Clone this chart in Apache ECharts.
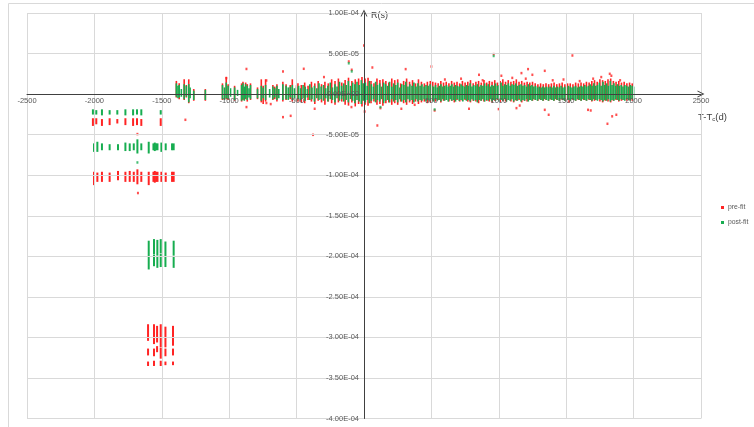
<!DOCTYPE html>
<html><head><meta charset="utf-8">
<script src="https://cdn.jsdelivr.net/npm/echarts@6/dist/echarts.min.js"></script>
<style>html,body{margin:0;padding:0;background:#fff}#c{width:754px;height:427px}</style>
</head><body><div id="c"></div>
<script>
// Residuals in microseconds (1e-6 s); axis labels show seconds.
// Bars: [T-Tc (d), low, high]  (stacked markers of one epoch)
const xTicks = [-2500,-2000,-1500,-1000,-500,0,500,1000,1500,2000,2500];
const yTicks = [-400,-350,-300,-250,-200,-150,-100,-50,0,50,100];

const postFitMain = [
[-1392,-2,12],[-1380,-4,9],[-1371,-3,10],[-1355,-2,5],[-1334,-5,11],[-1318,-2,9],[-1300,-9,11],[-1290,-4,7],[-1263,-6,3],[-1177,-6,4],
[-1050,-5,10],[-1035,-6,7],[-1022,-4,13],[-1008,-5,9],[-990,-2,6],[-960,-6,7],[-938,-1,4],[-908,-7,10],[-898,-5,12],[-888,-7,8],[-878,-4,11],[-866,-6,9],[-853,-3,6],[-842,-5,10],
[-790,-4,5],[-762,-7,9],[-748,-4,7],[-730,-6,10],[-700,-3,5],[-676,-5,8],[-662,-3,6],[-646,-6,9],[-632,-4,5],[-602,-6,11],[-578,-5,9],[-562,-6,7],[-547,-3,8],[-532,-6,10],[-516,-4,6],[-500,-7,8],
[-485,-5,9],[-470,-6,6],[-452,-4,10],[-436,-7,8],[-420,-3,5],[-402,-6,11],[-386,-5,7],[-368,-8,9],[-350,-4,6],[-334,-6,12],[-318,-5,8],[-300,-7,10],[-284,-4,6],[-268,-8,9],[-250,-5,13],[-234,-6,7],[-216,-9,11],[-200,-4,8],[-182,-7,14],[-166,-5,9],[-150,-8,12],[-132,-6,10],[-116,-9,15],[-100,-5,9],[-84,-7,13],[-68,-10,11],[-52,-6,14],[-36,-8,10],[-20,-11,16],[-6,-7,12],
[10,-9,13],[24,-6,9],[40,-10,15],[55,-7,11],[70,-5,8],[86,-9,14],[100,-6,10],[116,-8,12],[130,-5,8],[146,-10,13],[160,-7,11],[176,-6,9],[190,-9,14],[206,-5,8],[220,-8,12],[236,-6,10],[250,-9,13],[266,-5,7],[280,-8,11],[296,-6,10],[310,-9,14],[326,-5,8],[340,-7,11],[356,-6,9],[370,-9,13],[386,-5,8],[400,-8,12],[416,-6,9],[430,-7,11],[446,-5,8],[460,-8,10],[476,-6,9],[490,-7,11],
[504,-6,9],[517,-8,8],[531,-5,10],[544,-7,7],[558,-6,9],[571,-8,11],[585,-5,8],[598,-7,9],[612,-6,10],[625,-8,8],[639,-5,9],[652,-7,11],[666,-6,8],[679,-8,10],[693,-5,9],[706,-7,8],[720,-6,11],[733,-8,9],[747,-5,8],[760,-7,10],[774,-6,9],[787,-8,12],[801,-5,8],[814,-7,10],[828,-6,9],[841,-9,11],[855,-6,8],[868,-7,10],[882,-5,9],[895,-8,12],[909,-6,9],[922,-7,11],[936,-5,8],[949,-8,10],[963,-6,9],[976,-7,12],[990,-5,9],
[1003,-8,10],[1017,-6,13],[1030,-7,9],[1044,-5,11],[1057,-8,10],[1071,-6,12],[1084,-7,9],[1098,-5,11],[1111,-8,10],[1125,-6,12],[1138,-7,9],[1152,-5,10],[1165,-8,11],[1179,-6,9],[1192,-7,10],[1206,-5,8],[1219,-8,11],[1233,-6,9],[1246,-7,10],[1260,-5,8],[1273,-6,9],[1287,-7,7],[1300,-5,8],[1314,-6,7],[1327,-7,8],[1341,-5,7],[1354,-6,8],[1368,-7,7],[1381,-5,8],[1395,-6,7],[1408,-7,9],[1422,-5,7],[1435,-6,8],[1449,-7,7],[1462,-5,9],[1476,-6,7],[1489,-7,8],
[1503,-5,7],[1516,-6,9],[1530,-7,8],[1543,-5,7],[1557,-6,8],[1570,-7,9],[1584,-5,7],[1597,-6,8],[1611,-7,9],[1624,-5,8],[1638,-6,10],[1651,-7,8],[1665,-5,9],[1678,-6,11],[1692,-7,9],[1705,-5,12],[1719,-6,9],[1732,-7,10],[1746,-5,13],[1759,-6,9],[1773,-8,14],[1786,-6,10],[1800,-7,12],[1813,-5,9],[1827,-8,15],[1840,-6,10],[1854,-7,12],[1867,-5,9],[1881,-6,11],[1894,-7,9],[1908,-5,10],[1921,-6,8],[1935,-7,10],[1948,-5,9],[1962,-6,8],[1975,-7,10],[1989,-5,9],[2000,-6,8]
];

const preFitMain = [
[-1392,-3,15],[-1371,-5,12],[-1334,-6,17],[-1318,-3,10],[-1300,-10,17],[-1263,-7,5],[-1177,-7,5],
[-1050,-6,12],[-1022,-5,20],[-1008,-6,11],[-960,-7,9],[-908,-8,12],[-898,-6,14],[-878,-5,13],[-866,-8,11],[-842,-6,12],
[-790,-5,7],[-762,-9,17],[-748,-11,9],[-730,-8,17],[-676,-6,10],[-662,-5,8],[-646,-8,11],[-602,-8,14],[-578,-6,11],[-547,-5,10],[-532,-8,17],[-500,-8,10],
[-490,-8,12],[-465,-9,10],[-440,-10,13],[-415,-6,9],[-390,-8,14],[-365,-11,12],[-340,-7,15],[-315,-9,11],[-290,-12,14],[-265,-8,12],[-240,-10,17],[-215,-12,15],[-190,-9,18],[-165,-8,13],[-140,-12,16],[-115,-13,19],[-90,-9,15],[-65,-14,17],[-40,-11,18],[-15,-14,20],
[8,-12,18],[30,-13,19],[52,-10,15],[74,-8,12],[96,-12,18],[118,-11,16],[140,-13,17],[162,-10,15],[184,-9,13],[206,-12,18],[228,-10,16],[250,-12,17],[272,-8,12],[294,-10,15],[316,-12,18],[338,-9,14],[360,-11,16],[382,-8,12],[404,-11,17],[426,-9,14],[448,-8,12],[470,-10,14],[492,-9,15],
[510,-7,14],[530,-8,13],[550,-6,12],[570,-9,15],[590,-7,13],[610,-6,14],[630,-8,12],[650,-7,15],[670,-9,13],[690,-6,14],[710,-8,12],[730,-7,15],[750,-6,13],[770,-8,14],[790,-9,16],[810,-7,12],[830,-8,14],[850,-10,15],[870,-7,13],[890,-8,16],[910,-7,13],[930,-8,15],[950,-9,14],[970,-7,16],[990,-6,13],
[1010,-9,15],[1030,-7,17],[1050,-8,14],[1070,-6,16],[1090,-8,14],[1110,-9,15],[1130,-7,17],[1150,-6,14],[1170,-9,15],[1190,-7,13],[1210,-8,14],[1230,-6,13],[1250,-7,14],[1270,-6,12],[1290,-7,11],[1310,-6,12],[1330,-7,11],[1350,-6,12],[1370,-7,11],[1390,-6,12],[1410,-7,13],[1430,-6,11],[1450,-7,12],[1470,-6,13],[1490,-7,11],
[1510,-6,12],[1530,-7,12],[1550,-6,11],[1570,-7,13],[1590,-6,12],[1610,-7,13],[1630,-6,12],[1650,-7,14],[1670,-6,13],[1690,-8,15],[1710,-7,16],[1730,-6,14],[1750,-8,17],[1770,-9,16],[1790,-7,15],[1810,-8,17],[1830,-9,18],[1850,-7,15],[1870,-6,14],[1890,-8,15],[1910,-7,13],[1930,-6,14],[1950,-7,12],[1970,-6,13],[1990,-7,12]
];

const postFitOffset = [
[-2011,-24,-20],[-1986,-24,-21],[-1944,-25,-20],[-1887,-24,-21],[-1830,-24,-21],[-1770,-25,-20],[-1713,-25,-20],[-1684,-24,-20],[-1652,-25,-20],[-1508,-24,-21],
[-2003,-70,-62],[-1978,-70,-60],[-1944,-68,-62],[-1887,-68,-63],[-1825,-68,-63],[-1770,-69,-61],[-1738,-69,-62],[-1708,-68,-62],[-1681,-72,-57],[-1652,-68,-62],[-1597,-72,-60],[-1562,-68,-62],[-1552,-69,-61],[-1542,-68,-62],[-1532,-68,-62],[-1503,-70,-61],[-1471,-68,-62],[-1424,-68,-62],[-1412,-68,-62]
];
const postFitLow = [
[-1597,-199,-182],[-1597,-215,-202],[-1558,-196,-180],[-1558,-211,-199],[-1533,-198,-181],[-1533,-213,-201],
[-1508,-195,-180],[-1508,-212,-198],[-1473,-199,-183],[-1473,-212,-202],[-1412,-198,-182],[-1412,-213,-201]
];
const preFitOffset = [
[-2011,-38,-31],[-1986,-36,-31],[-1944,-38,-32],[-1887,-37,-31],[-1830,-35,-32],[-1770,-37,-31],[-1713,-38,-31],[-1684,-37,-31],[-1652,-38,-32],[-1508,-38,-31],
[-2003,-111,-97],[-1978,-107,-98],[-1944,-107,-97],[-1887,-107,-98],[-1825,-105,-96],[-1770,-107,-97],[-1738,-107,-96],[-1708,-107,-97],[-1681,-110,-94],[-1652,-107,-97],[-1597,-111,-97],[-1562,-107,-97],[-1552,-108,-96],[-1542,-107,-97],[-1532,-107,-97],[-1503,-107,-97],[-1471,-107,-98],[-1424,-107,-97],[-1412,-107,-97],
[-1602,-303,-285],[-1602,-321,-315],[-1602,-334,-331],
[-1558,-307,-285],[-1558,-322,-315],[-1558,-334,-330],
[-1535,-305,-287],[-1535,-317,-312],
[-1508,-311,-285],[-1508,-325,-314],[-1508,-334,-330],
[-1473,-311,-288],[-1473,-322,-315],[-1473,-333,-331],
[-1417,-309,-287],[-1417,-321,-315],[-1417,-333,-331]
];

// single outlying points [T-Tc (d), residual (us)]
const preFitPoints = [
[-1325,-31.7],[-1021,19.7],[-872,31],[-872,-16],[-724,16.8],[-724,-11],[-692,-12.3],[-601,27.9],[-601,-28.4],[-447,31.2],[-544,-26.8],[-378,-50.2],[-366,-18.1],[-297,21],
[-113,40.2],[-91,30],[-93,-16],[0,59.9],[5,-21.5],[62,32.8],[99,-38.7],[122,-17.3],[277,-18.1],[309,30.8],[376,-13.2],[500,34],[524,-20.2],[779,-18.1],[853,23.8],[999,-18.5],
[962,49.3],[1019,22.6],[1131,-17.3],[1168,25.9],[1217,30.8],[1249,23.8],[1341,28.7],[1341,-19.4],[1370,-25.5],[1546,47.6],[1521,-9.1],[1662,-19.4],[1682,-20.2],[1806,-36.6],
[1835,22.6],[1823,25],[1841,-27.4],[1872,-25.5],[1155,-14.1],[600,18],[720,19],[880,17],[1100,20],[1200,19],[1400,17],[1480,18],[1600,16],[1700,19],[1760,21],[1900,17],
[-1677,-122],[-1681,-49.3]
];
const postFitPoints = [
[-1681,-84.3],[524,-19],[122,-16],[-91,28],[-113,38],[962,47]
];

const RED = '#ff2424', GREEN = '#17ad50';

function fmtY(v){
  if (v === 0) return '0.00E+00';
  const s = (v * 1e-6).toExponential(2).split('e');
  const n = parseInt(s[1], 10);
  return s[0] + 'E' + (n < 0 ? '-' : '+') + String(Math.abs(n)).padStart(2, '0');
}
function barRenderer(w){
  return function(params, api){
    const a = api.coord([api.value(0), api.value(2)]);
    const b = api.coord([api.value(0), api.value(1)]);
    return {type:'rect', shape:{x:a[0]-w/2, y:a[1]-1, width:w, height:Math.max(2, b[1]-a[1]+2)},
            style:{fill: api.visual('color')}};
  };
}
function barSeries(name, data, color, opacity, w){
  return {type:'custom', name, data, renderItem: barRenderer(w||1.6), encode:{x:0, y:[1,2]},
          itemStyle:{color, opacity: opacity||1}, silent:true, animation:false};
}

// plot layout (pixels)
const G = {left:27, right:53, top:13, bottom:8.5};
const plotW = 754 - G.left - G.right, plotH = 427 - G.top - G.bottom;
const xZeroShift = plotW * (0 - xTicks[0]) / (xTicks[xTicks.length-1] - xTicks[0]);
const yZeroShift = plotH * (0 - yTicks[0]) / (yTicks[yTicks.length-1] - yTicks[0]);
const ARROW = 'path://M0,10 L5,0 L10,10 L8.6,10 L5,2.8 L1.4,10 Z';

const FONT = "'Liberation Sans Narrow','Liberation Sans',Arial,sans-serif";
const chart = echarts.init(document.getElementById('c'), null, {renderer:'canvas'});
chart.setOption({
  animation:false,
  grid:Object.assign({containLabel:false, outerBoundsMode:'none'}, G),
  legend:{orient:'vertical', left:721, top:204, padding:0, itemWidth:3, itemHeight:3, itemGap:8, icon:'rect',
          data:['pre-fit','post-fit'], textStyle:{fontSize:6.8, color:'#595959', fontFamily:FONT, padding:[0,0,0,-1]}},
  xAxis:{type:'value', position:'bottom', offset:-yZeroShift, min:xTicks[0], max:xTicks[xTicks.length-1], interval:500, z:5,
         axisLine:{onZero:false, lineStyle:{color:'#404040', width:1}, symbol:['none',ARROW], symbolSize:[9,7]},
         axisTick:{show:false},
         axisLabel:{fontSize:7.5, color:'#595959', fontFamily:FONT, margin:3, formatter:v=> v===0 ? '' : String(v)},
         splitLine:{show:true, lineStyle:{color:'#d9d9d9', width:1}}},
  yAxis:{type:'value', position:'left', offset:-xZeroShift, min:yTicks[0], max:yTicks[yTicks.length-1], interval:50, z:5,
         axisLine:{onZero:false, lineStyle:{color:'#404040', width:1}, symbol:['none',ARROW], symbolSize:[9,7]},
         axisTick:{show:false},
         axisLabel:{fontSize:7.5, color:'#595959', fontFamily:FONT, margin:5, formatter:fmtY},
         splitLine:{show:true, lineStyle:{color:'#d9d9d9', width:1}}},
  graphic:[
    {type:'rect', z:-1, shape:{x:8.5, y:3.5, width:746, height:430}, style:{fill:'none', stroke:'#d9d9d9', lineWidth:1}, silent:true},
    {type:'text', left:371, top:11, style:{text:'R(s)', font:"9px "+FONT, fill:'#404040'}},
    {type:'text', left:698, top:112, style:{text:'T-T{s|c}(d)', font:"9.5px "+FONT, fill:'#404040',
      rich:{s:{fontSize:6, fill:'#404040', padding:[5,0,0,0], fontFamily:FONT}}}}
  ],
  series:[
    barSeries('pre-fit', preFitMain, RED),
    barSeries('post-fit', postFitMain, GREEN),
    barSeries('pre-fit', preFitOffset, RED, 1, 2),
    barSeries('post-fit', postFitOffset, GREEN, 1, 2),
    barSeries('post-fit', postFitLow, GREEN, 0.55, 2),
    {type:'scatter', name:'pre-fit', data:preFitPoints, symbol:'rect', symbolSize:[2,2.5], itemStyle:{color:RED}, silent:true},
    {type:'scatter', name:'post-fit', data:postFitPoints, symbol:'rect', symbolSize:[2,2.5], itemStyle:{color:GREEN}, silent:true}
  ]
});
</script></body></html>
